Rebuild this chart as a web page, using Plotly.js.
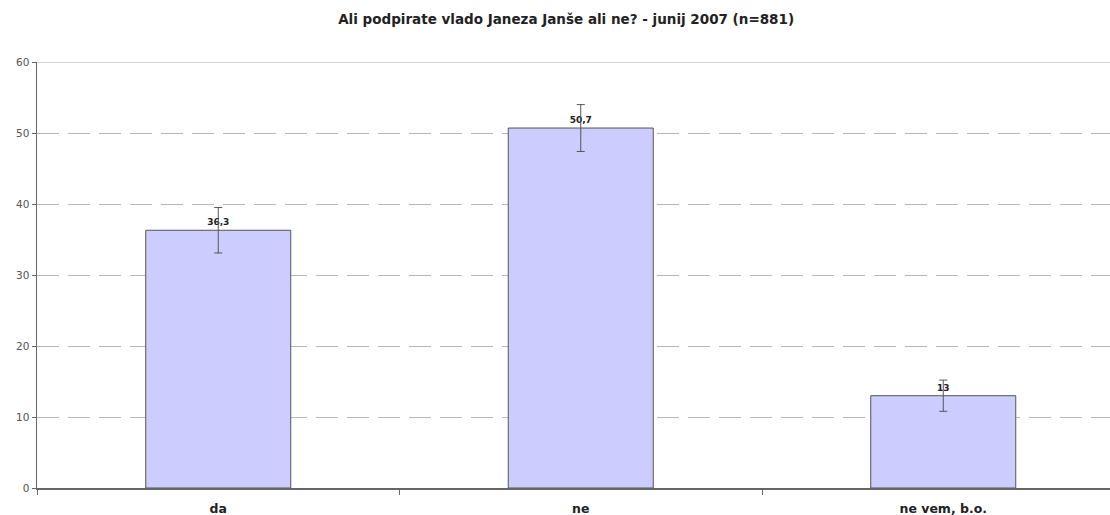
<!DOCTYPE html>
<html>
<head>
<meta charset="utf-8">
<script src="https://cdn.plot.ly/plotly-3.0.1.min.js"></script>
<style>html,body{margin:0;padding:0;background:#fff;}#chart{width:1110px;height:515px;}</style>
</head>
<body>
<div id="chart"></div>
<script>
var categories = ["da", "ne", "ne vem, b.o."];
var values = [36.3, 50.7, 13];
var valueLabels = ["36,3", "50,7", "13"];
var errors = [3.2, 3.3, 2.2];
var yTicks = [0, 10, 20, 30, 40, 50, 60];

var FONT = "DejaVu Sans, Verdana, sans-serif";

var trace = {
  type: "bar",
  x: categories,
  y: values,
  text: valueLabels,
  texttemplate: "<b>%{text}</b>",
  textposition: "outside",
  cliponaxis: false,
  textfont: {family: FONT, size: 9, color: "#222"},
  width: 0.4,
  marker: {color: "#ccccff", line: {color: "#555555", width: 1}},
  error_y: {type: "data", array: errors, visible: true, color: "#555555", thickness: 1, width: 4},
  hoverinfo: "none"
};

var layout = {
  width: 1110,
  height: 515,
  margin: {l: 37, r: 0, t: 62, b: 27},
  paper_bgcolor: "#ffffff",
  plot_bgcolor: "#ffffff",
  showlegend: false,
  title: {
    text: "<b>Ali podpirate vlado Janeza Janše ali ne? - junij 2007 (n=881)</b>",
    font: {family: FONT, size: 13.5, color: "#222"},
    x: 0.51, xanchor: "center", y: 0.962, yanchor: "middle"
  },
  xaxis: {
    type: "category",
    range: [-0.5, 2.46],
    tickson: "boundaries",
    ticks: "outside",
    ticklen: 5,
    tickcolor: "#666",
    showline: true,
    linecolor: "#666",
    linewidth: 1.5,
    showgrid: false,
    tickfont: {family: FONT, size: 12.5, color: "#222", weight: "bold"},
    ticklabelstandoff: 8
  },
  yaxis: {
    range: [0, 60],
    tickvals: yTicks,
    ticks: "outside",
    ticklen: 4,
    tickcolor: "#666",
    showline: true,
    linecolor: "#666",
    linewidth: 1.5,
    showgrid: true,
    gridcolor: "#b8b8b8",
    griddash: "22px,9px",
    gridwidth: 1,
    zeroline: false,
    tickfont: {family: FONT, size: 10.5, color: "#555"}
  },
  shapes: [{
    type: "line", xref: "paper", yref: "y", x0: 0, x1: 1, y0: 60, y1: 60,
    line: {color: "#c8c8c8", width: 1.5}
  }]
};

Plotly.newPlot("chart", [trace], layout, {displayModeBar: false, staticPlot: true});
</script>
</body>
</html>
